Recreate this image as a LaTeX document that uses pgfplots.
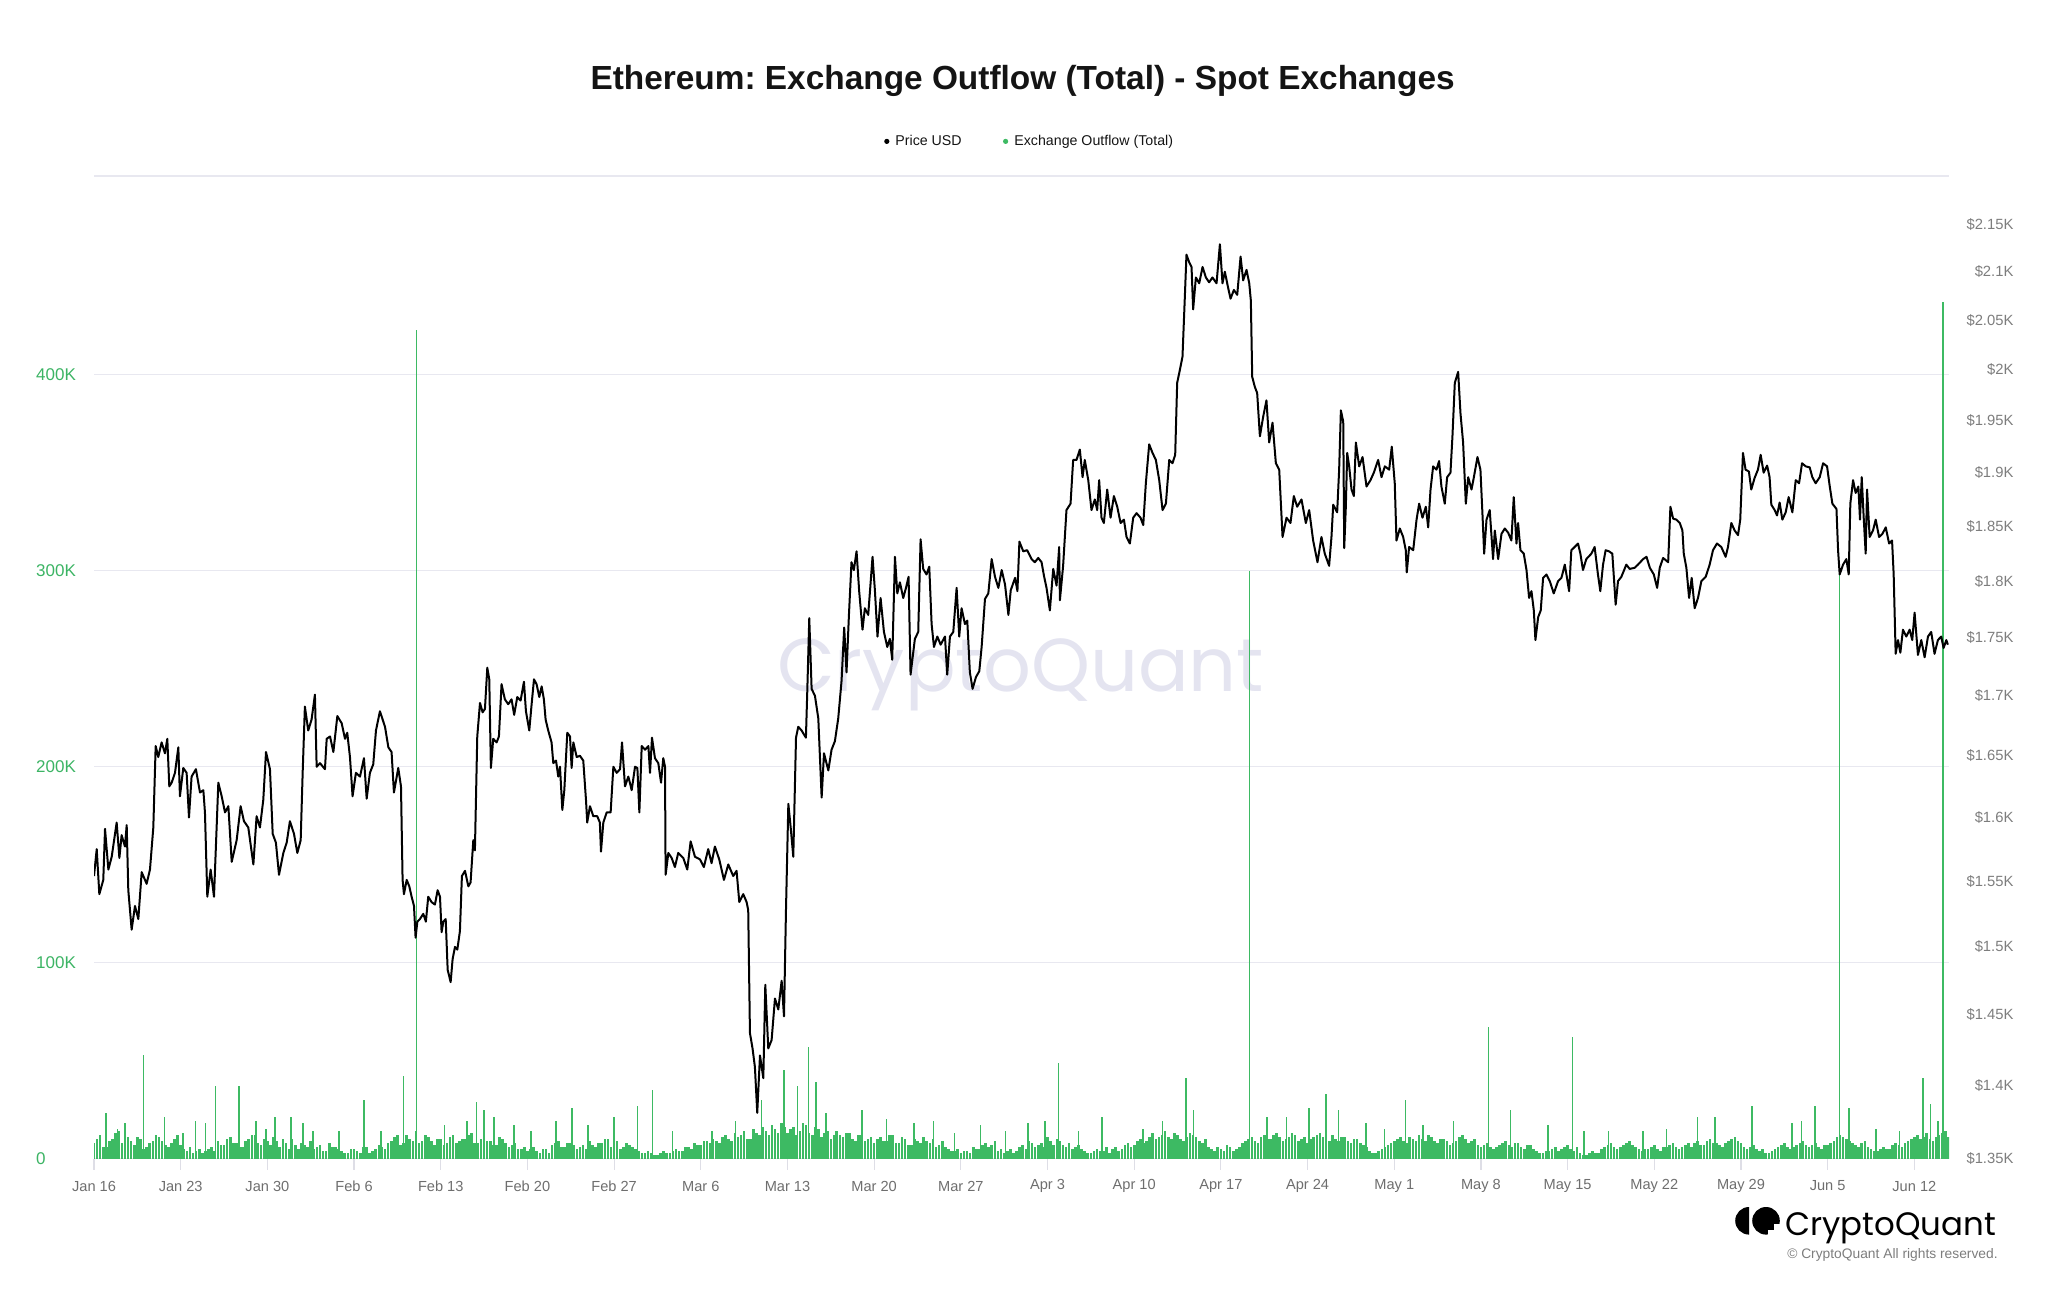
\documentclass[border=0pt]{standalone}
\usepackage{fontspec}
\setmainfont{Liberation Sans}
\newfontfamily\poppins{Poppins}
\usepackage{pgfplots}
\pgfplotsset{compat=1.18}
\frenchspacing
\definecolor{barg}{RGB}{61,186,99}
\definecolor{lblg}{RGB}{60,180,100}
\definecolor{gridc}{RGB}{232,232,240}
\definecolor{tickc}{RGB}{222,222,230}
\definecolor{xlbl}{RGB}{110,110,110}
\definecolor{rlbl}{RGB}{125,125,125}
\definecolor{wm}{RGB}{228,228,240}
\definecolor{ttl}{RGB}{20,20,20}
\begin{document}
\begin{tikzpicture}
\path[use as bounding box] (0,0) rectangle (1024pt,645pt);
% watermark
\node[anchor=base, inner sep=0pt, text=wm] at (510.3pt,299pt) {\resizebox{243.5pt}{!}{\poppins CryptoQuant}};
% title
\node[font=\bfseries\fontsize{16.7}{20}\selectfont, text=ttl] at (511.3pt,604.5pt) {Ethereum: Exchange Outflow (Total) - Spot Exchanges};
% legend
\fill[black] (443.4pt,574.3pt) circle (1.3pt);
\node[anchor=base west, inner sep=0pt, font=\fontsize{7.1}{8}\selectfont, text=ttl] at (447.5pt,572.1pt) {Price USD};
\fill[barg] (502.8pt,574.3pt) circle (1.3pt);
\node[anchor=base west, inner sep=0pt, font=\fontsize{7.1}{8}\selectfont, text=ttl] at (507pt,572.1pt) {Exchange Outflow (Total)};
\draw[gridc, line width=0.6pt] (47pt,557pt) -- (974.5pt,557pt);
% outflow axis (left)
\begin{axis}[
  scale only axis, width=927.5pt, height=481.25pt,
  at={(47pt,65.75pt)}, anchor=south west,
  xmin=0, xmax=149.8, ymin=0, ymax=491.3,
  axis x line*=bottom, axis y line*=left,
  x axis line style={draw=tickc, line width=0.6pt},
  y axis line style={draw=none},
  ymajorgrids=true, grid style={draw=gridc, line width=0.6pt},
  tick align=outside, major tick length=5.5pt,
  xtick style={draw=tickc, line width=0.6pt},
  ytick style={draw=none},
  xtick={0,7,14,21,28,35,42,49,56,63,70,77,84,91,98,105,112,119,126,133,140,147},
  xticklabels={Jan 16,Jan 23,Jan 30,Feb 6,Feb 13,Feb 20,Feb 27,Mar 6,Mar 13,Mar 20,Mar 27,Apr 3,Apr 10,Apr 17,Apr 24,May 1,May 8,May 15,May 22,May 29,Jun 5,Jun 12},
  xticklabel style={font=\fontsize{7.3}{8}\selectfont, text=xlbl, anchor=center, yshift=-8.25pt, inner sep=0pt},
  ytick={0,100,200,300,400},
  yticklabels={0,100K,200K,300K,400K},
  yticklabel style={font=\fontsize{8.5}{9}\selectfont, text=lblg, anchor=west, xshift=-23.6pt, inner sep=0pt},
  clip=true,
]
\addplot[ycomb, color=barg, line width=1.3pt, mark=none] coordinates {
(0,8)(0.5,12)(1,6)(1.5,10)(2,14)(2.5,7)(3,9)(3.5,11)(4,5)(4.5,8)(5,12)(5.5,9)(6,6)(6.5,10)(7,7)(7.5,4)(8,3)(8.5,5)(9,4)(9.5,6)
(10,9)(10.5,7)(11,11)(11.5,8)(12,6)(12.5,10)(13,12)(13.5,7)(14,9)(14.5,11)(15,6)(15.5,8)(16,10)(16.5,5)(17,7)(17.5,9)(18,6)(18.5,4)(19,8)(19.5,6)
(20,4)(20.5,3)(21,5)(21.5,3)(22,6)(22.5,4)(23,7)(23.5,5)(24,9)(24.5,12)(25,8)(25.5,10)(26,14)(26.5,9)(27,11)(27.5,7)(28,10)(28.5,8)(29,12)(29.5,9)
(30,10)(30.5,13)(31,8)(31.5,11)(32,9)(32.5,7)(33,10)(33.5,6)(34,8)(34.5,5)(35,4)(35.5,6)(36,3)(36.5,5)(37,7)(37.5,9)(38,6)(38.5,8)(39,5)(39.5,7)
(40,9)(40.5,6)(41,8)(41.5,10)(42,7)(42.5,5)(43,8)(43.5,6)(44,4)(44.5,3)(45,3)(45.5,2)(46,4)(46.5,3)(47,5)(47.5,4)(48,6)(48.5,8)(49,7)(49.5,9)
(50,10)(50.5,8)(51,12)(51.5,9)(52,11)(52.5,14)(53,10)(53.5,13)(54,16)(54.5,12)(55,15)(55.5,18)(56,13)(56.5,16)(57,14)(57.5,17)(58,12)(58.5,15)(59,13)(59.5,10)
(60,14)(60.5,11)(61,13)(61.5,9)(62,12)(62.5,10)(63,8)(63.5,11)(64,9)(64.5,12)(65,8)(65.5,10)(66,7)(66.5,9)(67,11)(67.5,8)(68,6)(68.5,9)(69,5)(69.5,4)
(70,3)(70.5,4)(71,6)(71.5,5)(72,8)(72.5,7)(73,4)(73.5,3)(74,5)(74.5,4)(75,7)(75.5,9)(76,6)(76.5,8)(77,11)(77.5,7)(78,9)(78.5,6)(79,5)(79.5,7)
(80,4)(80.5,3)(81,5)(81.5,4)(82,3)(82.5,6)(83,5)(83.5,8)(84,7)(84.5,10)(85,9)(85.5,13)(86,11)(86.5,14)(87,10)(87.5,12)(88,9)(88.5,13)(89,11)(89.5,8)
(90,6)(90.5,4)(91,5)(91.5,7)(92,4)(92.5,6)(93,9)(93.5,11)(94,8)(94.5,12)(95,10)(95.5,13)(96,9)(96.5,11)(97,12)(97.5,10)(98,8)(98.5,11)(99,13)(99.5,10)
(100,12)(100.5,9)(101,11)(101.5,8)(102,10)(102.5,7)(103,4)(103.5,3)(104,5)(104.5,7)(105,9)(105.5,11)(106,8)(106.5,10)(107,12)(107.5,9)(108,11)(108.5,8)(109,10)(109.5,7)
(110,9)(110.5,12)(111,8)(111.5,10)(112,6)(112.5,8)(113,5)(113.5,7)(114,9)(114.5,6)(115,8)(115.5,5)(116,7)(116.5,4)(117,3)(117.5,4)(118,6)(118.5,5)(119,7)(119.5,4)
(120,3)(120.5,2)(121,4)(121.5,3)(122,6)(122.5,8)(123,5)(123.5,7)(124,9)(124.5,6)(125,4)(125.5,5)(126,7)(126.5,4)(127,6)(127.5,8)(128,5)(128.5,7)(129,6)(129.5,9)
(130,7)(130.5,10)(131,8)(131.5,6)(132,9)(132.5,11)(133,8)(133.5,5)(134,7)(134.5,4)(135,3)(135.5,4)(136,6)(136.5,8)(137,5)(137.5,7)(138,9)(138.5,6)(139,8)(139.5,5)
(140,7)(140.5,9)(141,12)(141.5,10)(142,8)(142.5,6)(143,9)(143.5,5)(144,4)(144.5,6)(145,5)(145.5,8)(146,6)(146.5,9)(147,11)(147.5,10)(148,13)(148.5,9)(149,12)(149.5,14)
};
\addplot[ycomb, color=barg, line width=1.3pt, mark=none] coordinates {
(0.25,10)(0.75,6)(1.25,9)(1.75,13)(2.25,8)(2.75,11)(3.25,7)(3.75,10)(4.25,6)(4.75,9)(5.25,11)(5.75,7)(6.25,8)(6.75,12)(7.25,5)(7.75,6)(8.25,4)(8.75,3)(9.25,5)(9.75,4)
(10.25,7)(10.75,10)(11.25,8)(11.75,6)(12.25,9)(12.75,12)(13.25,8)(13.75,10)(14.25,7)(14.75,9)(15.25,10)(15.75,5)(16.25,7)(16.75,8)(17.25,6)(17.75,5)(18.25,7)(18.75,4)(19.25,6)(19.75,5)
(20.25,3)(20.75,5)(21.25,4)(21.75,6)(22.25,3)(22.75,5)(23.25,6)(23.75,8)(24.25,11)(24.75,7)(25.25,12)(25.75,9)(26.25,8)(26.75,12)(27.25,9)(27.75,10)(28.25,7)(28.75,11)(29.25,8)(29.75,10)
(30.25,12)(30.75,8)(31.25,10)(31.75,9)(32.25,7)(32.75,11)(33.25,8)(33.75,7)(34.25,5)(34.75,6)(35.25,5)(35.75,4)(36.25,5)(36.75,3)(37.25,8)(37.75,6)(38.25,8)(38.75,7)(39.25,6)(39.75,5)
(40.25,7)(40.75,8)(41.25,10)(41.75,6)(42.25,9)(42.75,6)(43.25,7)(43.75,5)(44.25,3)(44.75,4)(45.25,2)(45.75,3)(46.25,3)(46.75,4)(47.25,4)(47.75,6)(48.25,5)(48.75,7)(49.25,9)(49.75,8)
(50.25,9)(50.75,11)(51.25,10)(51.75,13)(52.25,12)(52.75,10)(53.25,15)(53.75,12)(54.25,14)(54.75,17)(55.25,13)(55.75,16)(56.25,15)(56.75,12)(57.25,18)(57.75,13)(58.25,16)(58.75,11)(59.25,14)(59.75,12)
(60.25,12)(60.75,13)(61.25,10)(61.75,12)(62.25,9)(62.75,11)(63.25,10)(63.75,9)(64.25,12)(64.75,8)(65.25,11)(65.75,7)(66.25,10)(66.75,8)(67.25,9)(67.75,10)(68.25,7)(68.75,6)(69.25,4)(69.75,5)
(70.25,4)(70.75,3)(71.25,5)(71.75,7)(72.25,6)(72.75,9)(73.25,5)(73.75,4)(74.25,3)(74.75,6)(75.25,5)(75.75,8)(76.25,7)(76.75,6)(77.25,9)(77.75,10)(78.25,7)(78.75,8)(79.25,6)(79.75,5)
(80.25,3)(80.75,4)(81.25,4)(81.75,6)(82.25,5)(82.75,4)(83.25,7)(83.75,6)(84.25,9)(84.75,8)(85.25,11)(85.75,10)(86.25,12)(86.75,11)(87.25,13)(87.75,10)(88.25,11)(88.75,12)(89.25,9)(89.75,10)
(90.25,5)(90.75,6)(91.25,4)(91.75,6)(92.25,5)(92.75,8)(93.25,10)(93.75,9)(94.25,11)(94.75,10)(95.25,12)(95.75,11)(96.25,10)(96.75,13)(97.25,9)(97.75,11)(98.25,10)(98.75,12)(99.25,11)(99.75,9)
(100.25,10)(100.75,11)(101.25,9)(101.75,10)(102.25,8)(102.75,6)(103.25,3)(103.75,4)(104.25,6)(104.75,8)(105.25,10)(105.75,9)(106.25,11)(106.75,9)(107.25,10)(107.75,12)(108.25,9)(108.75,10)(109.25,9)(109.75,8)
(110.25,11)(110.75,10)(111.25,9)(111.75,7)(112.25,7)(112.75,6)(113.25,6)(113.75,8)(114.25,7)(114.75,8)(115.25,6)(115.75,7)(116.25,5)(116.75,3)(117.25,4)(117.75,5)(118.25,4)(118.75,6)(119.25,5)(119.75,6)
(120.25,2)(120.75,3)(121.25,3)(121.75,5)(122.25,7)(122.75,6)(123.25,6)(123.75,8)(124.25,7)(124.75,5)(125.25,5)(125.75,6)(126.25,5)(126.75,6)(127.25,7)(127.75,6)(128.25,6)(128.75,8)(129.25,8)(129.75,7)
(130.25,9)(130.75,8)(131.25,7)(131.75,8)(132.25,10)(132.75,9)(133.25,6)(133.75,6)(134.25,5)(134.75,5)(135.25,3)(135.75,5)(136.25,7)(136.75,6)(137.25,6)(137.75,8)(138.25,7)(138.75,7)(139.25,6)(139.75,7)
(140.25,8)(140.75,11)(141.25,11)(141.75,9)(142.25,7)(142.75,8)(143.25,6)(143.75,4)(144.25,5)(144.75,5)(145.25,7)(145.75,7)(146.25,8)(146.75,10)(147.25,12)(147.75,11)(148.25,10)(148.75,11)(149.25,13)(149.75,11)
};
\addplot[ycomb, color=barg, line width=0.8pt, mark=none] coordinates {
(0.95,23)(1.9,15)(2.5,18)(4.0,53)(5.7,21)(7.2,13)(8.2,19)(9.0,18)(9.8,37)(11.7,37)(13.1,19)(13.9,15)(14.6,21)(15.9,21)(16.9,18)(17.7,14)(19.8,14)(21.8,30)(23.2,14)(25.0,42)(26.05,423)
(28.3,17)(30.1,19)(30.9,29)(31.5,25)(32.3,21)(33.9,17)(35.3,14)(37.3,19)(38.6,26)(39.9,17)(42.0,21)(43.9,27)(45.1,35)(46.7,14)(49.9,14)(51.8,19)(53.9,30)(55.7,45)(56.8,37)(57.7,57)(58.3,39)(59.1,23)(59.9,14)
(62.0,25)(64.0,20)(66.2,18)(67.8,19)(69.5,13)(71.6,17)(73.6,14)(75.4,18)(76.8,19)(77.9,49)(79.5,14)(81.4,21)(84.7,15)(86.3,19)(88.2,41)(88.8,25)(93.3,300)(94.7,21)(96.3,21)(98.1,26)(99.5,33)
(100.5,25)(102.7,18)(104.2,15)(105.9,30)(107.3,17)(109.8,19)(112.6,67)(114.4,25)(117.4,17)(119.4,62)(120.3,14)(122.3,14)(125.1,14)(127.0,15)(129.5,21)(130.9,21)(133.9,27)(137.1,18)(137.9,19)(139.0,27)
(140.95,300)(141.7,26)(143.9,15)(145.8,14)(147.7,41)(148.3,28)(148.9,19)(149.3,437)
};
\end{axis}
% price axis (right, log)
\begin{axis}[
  scale only axis, width=927.5pt, height=481.25pt,
  at={(47pt,65.75pt)}, anchor=south west,
  xmin=0, xmax=149.8, ymode=log, ymin=1350, ymax=2181,
  axis x line=none, axis y line*=right,
  y axis line style={draw=none},
  ytick style={draw=none},
  tick align=outside, major tick length=5.5pt,
  ytick={1350,1400,1450,1500,1550,1600,1650,1700,1750,1800,1850,1900,1950,2000,2050,2100,2150},
  yticklabels={\$1.35K,\$1.4K,\$1.45K,\$1.5K,\$1.55K,\$1.6K,\$1.65K,\$1.7K,\$1.75K,\$1.8K,\$1.85K,\$1.9K,\$1.95K,\$2K,\$2.05K,\$2.1K,\$2.15K},
  yticklabel style={font=\fontsize{7.4}{8}\selectfont, text=rlbl, anchor=east, xshift=26.9pt, inner sep=0pt},
]
\addplot[black, line width=1pt, line join=round] table {
0 1554
0.22 1575
0.43 1540
0.75 1551
0.89 1591
1.16 1559
1.43 1569
1.83 1596
2.05 1568
2.23 1586
2.50 1577
2.64 1594
2.77 1543
3.04 1513
3.31 1531
3.58 1521
3.85 1557
4.25 1548
4.52 1559
4.79 1592
4.98 1658
5.19 1649
5.46 1661
5.73 1652
5.92 1664
6.08 1625
6.27 1628
6.54 1636
6.81 1657
6.94 1617
7.21 1640
7.48 1636
7.67 1600
7.88 1633
8.23 1639
8.56 1620
8.83 1622
8.96 1604
9.15 1538
9.42 1559
9.69 1538
10.04 1628
10.31 1617
10.58 1604
10.85 1609
11.12 1565
11.52 1582
11.84 1609
12.11 1597
12.46 1592
12.87 1563
13.13 1601
13.40 1592
13.67 1614
13.89 1653
14.21 1639
14.43 1587
14.69 1580
14.94 1555
15.29 1572
15.56 1580
15.82 1597
16.15 1587
16.42 1572
16.69 1582
16.85 1636
17.03 1691
17.30 1671
17.57 1680
17.84 1701
17.98 1641
18.25 1644
18.65 1639
18.79 1664
19.06 1666
19.33 1653
19.65 1683
20.00 1677
20.27 1664
20.45 1669
20.67 1649
20.88 1617
21.15 1636
21.48 1633
21.80 1648
22.02 1615
22.28 1636
22.55 1643
22.77 1671
23.09 1687
23.50 1674
23.77 1657
24.03 1653
24.22 1620
24.57 1640
24.79 1625
24.92 1551
25.03 1540
25.25 1551
25.46 1546
25.65 1538
25.84 1531
25.97 1507
26.11 1519
26.32 1521
26.59 1525
26.80 1519
26.99 1538
27.26 1534
27.53 1532
27.75 1543
27.94 1538
28.07 1511
28.21 1519
28.40 1521
28.56 1483
28.80 1474
28.96 1491
29.15 1500
29.34 1498
29.55 1512
29.71 1554
29.96 1558
30.23 1546
30.41 1549
30.63 1582
30.76 1574
30.95 1666
31.17 1694
31.38 1686
31.57 1689
31.76 1724
31.92 1714
32.05 1640
32.24 1664
32.51 1661
32.70 1666
32.91 1710
33.18 1697
33.45 1693
33.72 1697
33.93 1684
34.18 1699
34.45 1696
34.72 1712
34.88 1687
35.15 1671
35.34 1693
35.53 1714
35.74 1710
35.96 1699
36.15 1708
36.33 1697
36.47 1680
36.68 1671
36.95 1661
37.09 1644
37.31 1646
37.49 1633
37.63 1641
37.82 1606
37.98 1622
38.22 1669
38.44 1666
38.57 1640
38.71 1661
38.98 1649
39.24 1650
39.51 1646
39.73 1614
39.83 1596
40.05 1609
40.32 1601
40.64 1601
40.85 1596
40.94 1573
41.13 1596
41.40 1604
41.72 1604
41.94 1641
42.21 1636
42.48 1639
42.64 1661
42.88 1625
43.15 1633
43.42 1622
43.69 1641
43.88 1640
44.04 1604
44.23 1658
44.50 1655
44.77 1658
44.90 1636
45.06 1665
45.30 1648
45.57 1644
45.79 1628
45.97 1648
46.11 1641
46.16 1555
46.38 1572
46.65 1568
46.91 1561
47.18 1572
47.59 1568
47.91 1559
48.18 1581
48.53 1569
48.93 1567
49.25 1561
49.60 1575
49.87 1564
50.14 1577
50.49 1567
50.87 1551
51.22 1563
51.62 1554
51.89 1558
52.11 1534
52.43 1540
52.70 1534
52.83 1528
52.97 1437
53.18 1426
53.37 1413
53.56 1381
53.78 1421
54.05 1405
54.21 1472
54.45 1426
54.72 1432
54.99 1462
55.26 1454
55.53 1475
55.72 1449
55.88 1528
56.07 1611
56.26 1592
56.47 1569
56.69 1665
56.87 1674
57.14 1671
57.49 1665
57.60 1704
57.76 1767
57.95 1706
58.22 1700
58.49 1681
58.76 1616
58.95 1652
59.30 1638
59.56 1655
59.83 1662
60.10 1681
60.37 1713
60.58 1759
60.77 1720
60.96 1769
61.17 1817
61.36 1810
61.58 1827
61.79 1791
62.06 1757
62.25 1776
62.52 1770
62.87 1822
63.06 1792
63.27 1751
63.52 1785
63.79 1755
64.06 1742
64.27 1749
64.46 1731
64.68 1822
64.87 1789
65.08 1799
65.35 1785
65.57 1794
65.78 1804
65.94 1718
66.29 1749
66.56 1755
66.75 1838
66.96 1811
67.23 1806
67.45 1813
67.64 1762
67.83 1742
68.10 1751
68.37 1744
68.72 1751
68.90 1718
69.12 1751
69.39 1755
69.66 1794
69.87 1751
70.06 1776
70.33 1762
70.52 1765
70.73 1720
70.95 1706
71.22 1716
71.49 1721
71.68 1742
71.95 1784
72.22 1789
72.49 1820
72.76 1804
73.03 1794
73.30 1810
73.57 1797
73.84 1770
74.03 1792
74.38 1803
74.57 1791
74.73 1836
75.04 1827
75.36 1828
75.71 1820
75.98 1817
76.25 1821
76.52 1817
76.71 1805
76.92 1794
77.19 1774
77.46 1811
77.73 1796
77.94 1831
78.00 1783
78.26 1814
78.53 1865
78.86 1871
79.07 1912
79.34 1912
79.61 1922
79.83 1896
80.01 1912
80.29 1893
80.55 1865
80.82 1875
81.01 1865
81.17 1893
81.36 1858
81.55 1853
81.82 1884
82.09 1858
82.36 1878
82.63 1868
82.90 1853
83.17 1856
83.38 1840
83.65 1834
83.92 1858
84.19 1862
84.51 1858
84.73 1851
84.94 1890
85.21 1927
85.48 1919
85.75 1912
86.02 1893
86.29 1865
86.56 1871
86.83 1912
87.09 1909
87.31 1917
87.47 1987
87.69 2000
87.90 2013
88.09 2074
88.22 2118
88.44 2110
88.63 2105
88.76 2061
88.98 2094
89.25 2088
89.52 2105
89.79 2094
90.05 2089
90.32 2094
90.65 2088
90.92 2129
91.13 2088
91.32 2100
91.59 2083
91.78 2072
92.05 2081
92.32 2076
92.59 2116
92.80 2091
93.07 2102
93.29 2088
93.42 2070
93.53 1993
93.74 1983
93.93 1977
94.15 1935
94.42 1954
94.68 1970
94.90 1929
95.17 1948
95.44 1909
95.71 1903
95.98 1840
96.30 1858
96.62 1853
96.89 1878
97.16 1868
97.51 1875
97.86 1853
98.13 1865
98.45 1837
98.80 1817
99.12 1840
99.39 1825
99.74 1814
99.93 1840
100.07 1870
100.39 1863
100.55 1903
100.69 1960
100.88 1949
100.96 1830
101.09 1868
101.20 1919
101.36 1906
101.55 1884
101.74 1878
101.90 1929
102.17 1906
102.44 1915
102.76 1887
103.08 1893
103.35 1900
103.70 1912
103.97 1896
104.24 1906
104.59 1903
104.80 1925
105.04 1890
105.18 1837
105.45 1848
105.72 1840
105.93 1828
106.01 1808
106.20 1831
106.53 1828
106.80 1856
107.01 1871
107.28 1858
107.55 1868
107.74 1849
107.93 1884
108.14 1906
108.41 1903
108.62 1911
108.81 1887
109.08 1871
109.27 1896
109.54 1900
109.70 1935
109.89 1987
110.16 1998
110.35 1957
110.56 1929
110.78 1871
110.97 1896
111.24 1884
111.43 1896
111.72 1915
111.96 1903
112.12 1862
112.26 1825
112.45 1856
112.71 1865
112.98 1820
113.12 1846
113.39 1820
113.66 1843
113.93 1848
114.20 1844
114.46 1837
114.65 1877
114.87 1834
115.00 1853
115.19 1828
115.46 1825
115.68 1810
115.89 1785
116.08 1791
116.27 1774
116.40 1748
116.62 1768
116.83 1774
117.02 1803
117.29 1806
117.56 1800
117.88 1789
118.23 1800
118.50 1803
118.77 1815
118.95 1803
119.12 1791
119.30 1828
119.57 1831
119.84 1834
120.03 1825
120.24 1810
120.51 1820
120.92 1825
121.18 1831
121.45 1806
121.64 1791
121.86 1815
122.07 1828
122.34 1827
122.61 1825
122.88 1779
123.07 1800
123.34 1804
123.74 1815
124.01 1811
124.41 1812
124.68 1815
125.10 1820
125.37 1822
125.64 1812
125.96 1806
126.23 1794
126.44 1812
126.71 1821
127.12 1817
127.30 1868
127.52 1857
127.79 1856
128.06 1853
128.27 1846
128.38 1825
128.59 1812
128.81 1785
129.02 1803
129.26 1776
129.53 1785
129.80 1800
130.15 1804
130.47 1815
130.74 1828
131.06 1834
131.41 1831
131.76 1822
131.95 1831
132.22 1853
132.49 1846
132.76 1842
132.94 1856
133.16 1919
133.37 1903
133.64 1901
133.83 1884
134.10 1895
134.37 1903
134.59 1917
134.83 1900
135.11 1907
135.31 1896
135.45 1870
135.72 1865
135.91 1860
136.12 1872
136.34 1856
136.61 1863
136.85 1877
137.15 1863
137.42 1893
137.69 1890
137.93 1909
138.23 1906
138.55 1905
138.76 1896
139.03 1890
139.36 1896
139.63 1909
139.95 1906
140.17 1887
140.38 1871
140.71 1866
140.84 1828
140.97 1806
141.24 1815
141.51 1820
141.70 1806
141.83 1871
142.05 1893
142.26 1881
142.48 1887
142.61 1856
142.75 1896
142.91 1858
143.07 1825
143.18 1884
143.39 1840
143.66 1846
143.88 1856
144.15 1840
144.42 1843
144.69 1849
144.96 1834
145.20 1837
145.33 1806
145.49 1736
145.68 1748
145.87 1737
146.08 1757
146.35 1751
146.62 1757
146.83 1748
147.02 1772
147.29 1735
147.56 1748
147.83 1733
148.10 1751
148.36 1755
148.63 1736
148.90 1748
149.17 1751
149.36 1741
149.58 1748
149.71 1744
};
\end{axis}
% logo
\fill[black] (874.5pt,27.7pt) arc[start angle=-90, end angle=-270, radius=6.9pt] -- cycle;
\fill[black] (883pt,34.6pt) circle (6.9pt);
\fill[white] (884.2pt,26.5pt) rectangle (891pt,33.2pt);
\fill[black] (884.2pt,30pt) rectangle (886.8pt,33.2pt);
\node[anchor=base west, inner sep=0pt, text=black] at (892.5pt,27.5pt) {\resizebox{105.3pt}{!}{\poppins CryptoQuant}};
\node[anchor=east, inner sep=0pt, font=\fontsize{6.9}{8}\selectfont, text=rlbl] at (999pt,17.5pt) {\textcopyright{} CryptoQuant All rights reserved.};
\end{tikzpicture}
\end{document}
